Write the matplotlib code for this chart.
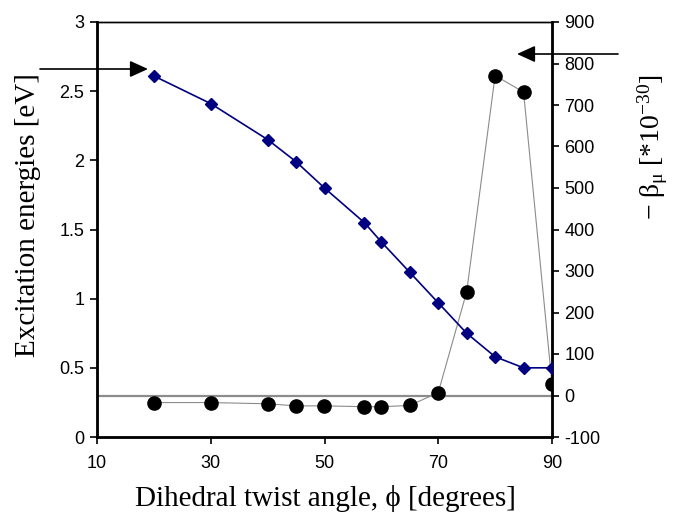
import matplotlib.pyplot as plt

plt.rcParams['font.family'] = 'Liberation Sans'
plt.rcParams['axes.unicode_minus'] = False
plt.rcParams['mathtext.fontset'] = 'custom'
plt.rcParams['mathtext.rm'] = 'Liberation Serif'
plt.rcParams['mathtext.it'] = 'Liberation Serif:italic'

# twist angles (degrees)
angle = [20, 30, 40, 45, 50, 57, 60, 65, 70, 75, 80, 85, 90]
# excitation energies [eV] (left axis)
energy = [2.61, 2.41, 2.15, 1.99, 1.80, 1.55, 1.41, 1.19, 0.97, 0.75, 0.58, 0.50, 0.50]
# -beta_mu [*10^-30] (right axis)
beta = [-17, -17, -20, -25, -25, -27, -27, -24, 7, 250, 771, 731, 28]

x_ticks = [10, 30, 50, 70, 90]

fig = plt.figure(figsize=(6.73, 5.25), dpi=100)
ax = fig.add_axes([97 / 673, 1 - 437 / 525, 455 / 673, 415 / 525])
ax2 = ax.twinx()

ax.plot(angle, energy, color='#000080', lw=1.2, marker='D', markersize=6, zorder=3)
ax2.axhline(0, color='#8c8c8c', lw=1.6, zorder=1)
ax2.plot(angle, beta, color='#8c8c8c', lw=0.8, marker='o', markersize=9.5,
         markerfacecolor='black', markeredgecolor='black', zorder=2)

ax.set_zorder(ax2.get_zorder() + 1)
ax.patch.set_visible(False)

ax.set_xlim(10, 90)
ax.set_ylim(0, 3)
ax2.set_ylim(-100, 900)
ax.set_xticks(x_ticks)
ax.set_yticks([0, 0.5, 1, 1.5, 2, 2.5, 3])
ax.set_yticklabels(['0', '0.5', '1', '1.5', '2', '2.5', '3'])
ax2.set_yticks(range(-100, 1000, 100))

for a in (ax, ax2):
    a.tick_params(direction='out', length=5, width=1.2, labelsize=13, pad=4)
    for s in a.spines.values():
        s.set_linewidth(1.0)
ax.spines['left'].set_linewidth(2)
ax.spines['bottom'].set_linewidth(2)
ax2.spines['right'].set_linewidth(2)
ax.tick_params(axis='x', pad=8)

fig.text(325 / 673, 1 - 498 / 525, 'Dihedral twist angle, \u03d5 [degrees]',
         family='Liberation Serif', fontsize=21, ha='center', va='center')
fig.text(28 / 673, 1 - 215 / 525, 'Excitation energies [eV]',
         family='Liberation Serif', fontsize=21, rotation=90, ha='center', va='center')
fig.text(653 / 673, 1 - 147 / 525, r'$\mathrm{-\ \beta_{\mu}\ [*10^{-30}]}$',
         fontsize=20, rotation=90, ha='center', va='center')

# arrows pointing to the axes
ax.annotate('', xy=(148, 525 - 69), xycoords='figure pixels',
            xytext=(40, 525 - 69), textcoords='figure pixels',
            arrowprops=dict(arrowstyle='-|>,head_length=1.1,head_width=0.5',
                            color='black', lw=1.2, shrinkA=0, shrinkB=0))
ax.annotate('', xy=(517, 525 - 54), xycoords='figure pixels',
            xytext=(618, 525 - 54), textcoords='figure pixels',
            arrowprops=dict(arrowstyle='-|>,head_length=1.1,head_width=0.5',
                            color='black', lw=1.2, shrinkA=0, shrinkB=0),
            annotation_clip=False)

fig.savefig('out.png', dpi=100)
